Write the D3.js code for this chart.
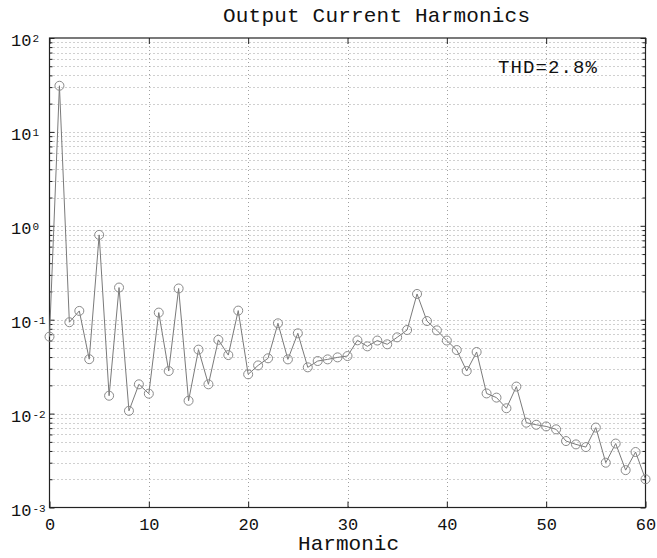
<!DOCTYPE html>
<html>
<head>
<meta charset="utf-8">
<script src="https://cdn.jsdelivr.net/npm/d3@7"></script>
<style>
  body { margin: 0; background: #fff; }
  text { font-family: "Courier New", "Liberation Mono", monospace; fill: #111; }
</style>
</head>
<body>
<div id="chart"></div>
<script>
// harmonic numbers and their amplitudes
let harmonics = [0, 1, 2, 3, 4, 5, 6, 7, 8, 9, 10, 11, 12, 13, 14, 15, 16, 17, 18, 19, 20,
    21, 22, 23, 24, 25, 26, 27, 28, 29, 30, 31, 32, 33, 34, 35, 36, 37, 38, 39, 40,
    41, 42, 43, 44, 45, 46, 47, 48, 49, 50, 51, 52, 53, 54, 55, 56, 57, 58, 59, 60];
let amplitude = [0.066, 31, 0.094, 0.124, 0.038, 0.80, 0.0155, 0.22, 0.0107, 0.0205, 0.0163,
    0.119, 0.0284, 0.215, 0.0137, 0.048, 0.0205, 0.061, 0.042, 0.125, 0.0262,
    0.0326, 0.0388, 0.0915, 0.0378, 0.0716, 0.0311, 0.0363, 0.0378, 0.0397, 0.041,
    0.0603, 0.052, 0.060, 0.0547, 0.0649, 0.0777, 0.188, 0.0968, 0.077, 0.060,
    0.0475, 0.0284, 0.0453, 0.0164, 0.0148, 0.0114, 0.0194, 0.0080, 0.0076, 0.0073,
    0.0068, 0.0051, 0.0047, 0.0044, 0.0071, 0.0030, 0.0048, 0.0025, 0.0039, 0.0020];
let xTicks = [0, 10, 20, 30, 40, 50, 60];
let yDecades = [-3, -2, -1, 0, 1, 2];
let title = "Output Current Harmonics";
let xLabel = "Harmonic";
let thdLabel = "THD=2.8%";

let width = 657;
let height = 558;
let plotLeft = 49.5, plotRight = 645.5, plotTop = 38, plotBottom = 507.5;

let svg = d3.select("#chart").append("svg")
    .attr("width", width)
    .attr("height", height);

let x = d3.scaleLinear().domain([0, 60]).range([plotLeft, plotRight]);
let y = d3.scaleLog().domain([1e-3, 1e2]).range([plotBottom, plotTop]);

// minor + major values for the log grid
let minorVals = [];
yDecades.slice(0, -1).forEach(e => {
    for (let k = 2; k <= 9; k++) minorVals.push(k * Math.pow(10, e));
});
let majorVals = yDecades.map(e => Math.pow(10, e));

// dotted grid
let grid = svg.append("g")
    .attr("stroke", "#a0a0a0")
    .attr("stroke-width", 1)
    .attr("stroke-dasharray", "1,3");
grid.selectAll(".gy")
    .data(minorVals.concat(majorVals.slice(1, -1)))
    .enter().append("line")
    .attr("x1", plotLeft).attr("x2", plotRight)
    .attr("y1", d => Math.round(y(d)) + 0.5)
    .attr("y2", d => Math.round(y(d)) + 0.5);
grid.selectAll(".gx")
    .data(xTicks.slice(1, -1))
    .enter().append("line")
    .attr("y1", plotTop).attr("y2", plotBottom)
    .attr("x1", d => Math.round(x(d)) + 0.5)
    .attr("x2", d => Math.round(x(d)) + 0.5);

// axes, inward ticks on all four sides
let xAxisB = d3.axisBottom(x).tickValues(xTicks).tickSize(-6).tickPadding(10);
let xAxisT = d3.axisTop(x).tickValues(xTicks).tickSize(-6).tickFormat("");
let yAxisL = d3.axisLeft(y).tickValues(majorVals).tickSize(-5).tickFormat("");
let yAxisR = d3.axisRight(y).tickValues(majorVals).tickSize(-5).tickFormat("");
let yMinL = d3.axisLeft(y).tickValues(minorVals).tickSize(-3).tickFormat("");
let yMinR = d3.axisRight(y).tickValues(minorVals).tickSize(-3).tickFormat("");

function styleAxis(g) {
    g.select(".domain").remove();
    g.selectAll("line").attr("stroke", "#222");
    g.selectAll("text")
        .attr("font-size", 17)
        .attr("fill", "#111")
        .style("font-family", "'Courier New', 'Liberation Mono', monospace");
}

svg.append("g").attr("transform", `translate(0,${plotBottom})`).call(xAxisB).call(styleAxis);
svg.append("g").attr("transform", `translate(0,${plotTop})`).call(xAxisT).call(styleAxis);
svg.append("g").attr("transform", `translate(${plotLeft},0)`).call(yAxisL).call(styleAxis);
svg.append("g").attr("transform", `translate(${plotRight},0)`).call(yAxisR).call(styleAxis);
svg.append("g").attr("transform", `translate(${plotLeft},0)`).call(yMinL).call(styleAxis);
svg.append("g").attr("transform", `translate(${plotRight},0)`).call(yMinR).call(styleAxis);

// box
svg.append("rect")
    .attr("x", plotLeft).attr("y", plotTop)
    .attr("width", plotRight - plotLeft).attr("height", plotBottom - plotTop)
    .attr("fill", "none")
    .attr("stroke", "#222")
    .attr("stroke-width", 1.2);

// y labels 10^n
let yl = svg.append("g").selectAll("text")
    .data(yDecades)
    .enter().append("text")
    .attr("x", 11)
    .attr("y", d => y(Math.pow(10, d)) + 8)
    .attr("font-size", 17);
yl.append("tspan").text("10");
yl.append("tspan")
    .attr("font-size", 11)
    .attr("dx", 1)
    .attr("dy", -4)
    .text(d => d);

// data line + markers
let points = harmonics.map((h, i) => [h, amplitude[i]]);
svg.append("path")
    .datum(points)
    .attr("fill", "none")
    .attr("stroke", "#7a7a7a")
    .attr("stroke-width", 1)
    .attr("d", d3.line().x(d => x(d[0])).y(d => y(d[1])));

svg.append("g").selectAll("circle")
    .data(points)
    .enter().append("circle")
    .attr("cx", d => x(d[0]))
    .attr("cy", d => y(d[1]))
    .attr("r", 4.5)
    .attr("fill", "none")
    .attr("stroke", "#8a8a8a")
    .attr("stroke-width", 1);

// texts
svg.append("text")
    .attr("x", 223)
    .attr("y", 22)
    .attr("font-size", 21)
    .attr("textLength", 307)
    .attr("lengthAdjust", "spacing")
    .text(title);

svg.append("text")
    .attr("x", 298)
    .attr("y", 550)
    .attr("font-size", 21)
    .attr("textLength", 101)
    .attr("lengthAdjust", "spacing")
    .text(xLabel);

svg.append("text")
    .attr("x", 498)
    .attr("y", 73)
    .attr("font-size", 19)
    .attr("textLength", 99)
    .attr("lengthAdjust", "spacing")
    .text(thdLabel);
</script>
</body>
</html>
